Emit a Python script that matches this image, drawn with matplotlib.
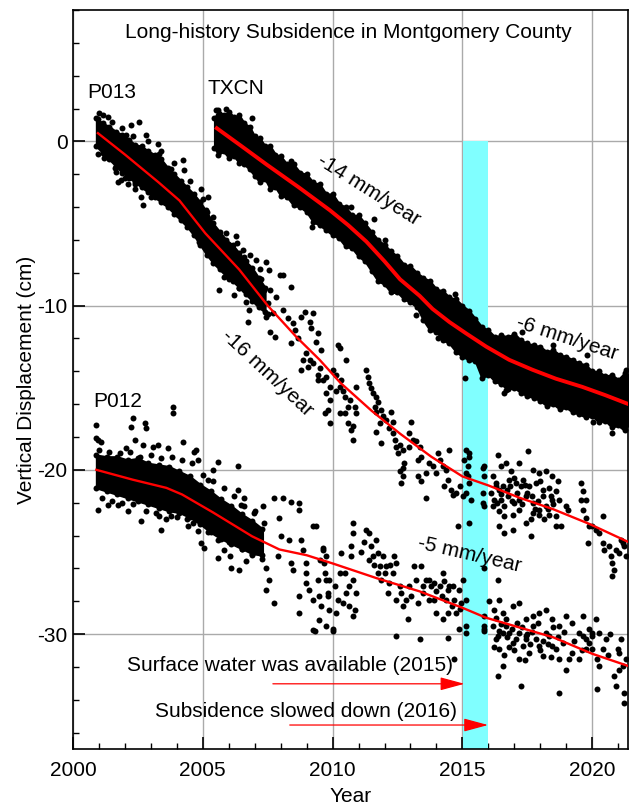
import numpy as np
import matplotlib
matplotlib.use('Agg')
import matplotlib.pyplot as plt
from matplotlib.ticker import MultipleLocator

plt.rcParams['font.family'] = ['Liberation Sans', 'DejaVu Sans']
plt.rcParams['axes.unicode_minus'] = False

# ---- data (years, cm) ----

# smooth trend lines
txcn_trend_x = [2005.54, 2006.5, 2007.45, 2008.7, 2009.9, 2010.6, 2011.3, 2012.0, 2012.6, 2013.35,
                2013.85, 2014.5, 2015.15, 2015.92, 2016.8, 2017.69, 2018.6, 2019.62, 2020.5, 2021.4]
txcn_trend_y = [0.8, -0.3, -1.4, -2.8, -4.2, -5.1, -6.1, -7.3, -8.4, -9.4,
                -10.2, -11.0, -11.7, -12.5, -13.3, -13.9, -14.45, -14.95, -15.45, -16.0]

p013_trend_x = [2000.96, 2002.0, 2003.3, 2004.1, 2005.1, 2006.4, 2007.5, 2008.6, 2009.5, 2010.3,
                2011.5, 2012.6, 2013.8, 2015.0, 2016.0, 2017.2, 2018.5, 2019.9, 2021.4]
p013_trend_y = [0.5, -0.8, -2.5, -3.6, -5.6, -7.8, -10.0, -11.9, -13.3, -14.7,
                -16.4, -17.8, -19.2, -20.4, -20.95, -21.7, -22.4, -23.3, -24.4]

p012_trend_x = [2000.9, 2002.3, 2003.6, 2004.2, 2005.4, 2006.9, 2007.95, 2009.0, 2010.0, 2011.7,
                2013.35, 2015.0, 2015.9, 2017.2, 2018.5, 2020.0, 2021.4]
p012_trend_y = [-20.0, -20.6, -21.1, -21.5, -22.6, -24.05, -24.85, -25.2, -25.7, -26.6,
                -27.4, -28.4, -29.0, -29.6, -30.2, -31.2, -31.95]

# dense (solid-looking) parts of the point clouds: upper / lower edges
txcn_band_x = [2005.45, 2005.6, 2005.8, 2006.0, 2006.2, 2006.4, 2006.6, 2006.8, 2007.0, 2007.2,
               2007.4, 2007.6, 2007.8, 2008.0, 2008.25, 2008.5, 2008.75, 2009.0, 2009.25, 2009.5,
               2009.75, 2010.0, 2010.25, 2010.5, 2010.75, 2011.0, 2011.25, 2011.5, 2011.75, 2012.0,
               2012.25, 2012.5, 2012.75, 2013.0, 2013.25, 2013.5, 2013.75, 2014.0, 2014.25, 2014.5,
               2014.75, 2015.0, 2015.25, 2015.5, 2015.75, 2016.0, 2016.25, 2016.5, 2016.75, 2017.0,
               2017.25, 2017.5, 2017.75, 2018.0, 2018.25, 2018.5, 2018.75, 2019.0, 2019.25, 2019.5,
               2019.75, 2020.0, 2020.25, 2020.5, 2020.75, 2021.0, 2021.25, 2021.4]
txcn_band_hi = [1.4, 1.9, 1.6, 1.8, 1.5, 1.6, 1.1, 0.9, 0.3, 0.2,
                -0.3, -0.3, -0.8, -0.9, -1.4, -1.4, -1.9, -2.0, -2.5, -2.6,
                -3.2, -3.2, -3.8, -4.0, -4.5, -4.5, -5.0, -5.5, -6.0, -6.3,
                -6.7, -7.0, -7.5, -7.6, -8.0, -8.3, -8.5, -9.0, -9.1, -9.5,
                -9.6, -10.0, -10.3, -10.8, -11.3, -11.5, -11.9, -11.8, -11.9, -11.7,
                -12.1, -12.3, -12.4, -12.5, -12.8, -12.7, -13.0, -13.1, -13.3, -13.5,
                -13.6, -14.0, -14.0, -14.3, -14.2, -14.5, -14.1, -14.3]
txcn_band_lo = [-0.4, -0.8, -0.6, -1.0, -0.9, -1.3, -1.4, -1.7, -2.1, -2.5,
                -2.3, -2.9, -2.8, -3.3, -3.4, -3.9, -4.0, -4.3, -4.9, -5.1,
                -5.4, -5.7, -5.9, -6.4, -6.5, -7.0, -7.3, -7.9, -8.5, -8.7,
                -9.2, -9.2, -9.6, -9.8, -10.1, -10.9, -11.5, -11.6, -12.1, -12.3,
                -12.8, -13.1, -13.3, -13.4, -14.4, -14.2, -14.6, -14.8, -15.1, -15.0,
                -15.3, -15.5, -15.6, -15.8, -16.1, -16.0, -16.3, -16.2, -16.5, -16.6,
                -16.8, -16.7, -17.1, -17.0, -17.4, -17.3, -17.6, -17.2]

p013_core_x = [2000.9, 2001.15, 2001.4, 2001.65, 2001.9, 2002.15, 2002.4, 2002.65, 2002.9, 2003.15,
               2003.4, 2003.65, 2003.9, 2004.15, 2004.4, 2004.65, 2004.9, 2005.15, 2005.4, 2005.65,
               2005.9, 2006.15, 2006.4, 2006.65, 2006.9, 2007.15, 2007.4]
p013_core_hi = [1.4, 1.1, 0.9, 0.6, 0.4, 0.1, -0.2, -0.3, -0.6, -0.8,
                -1.1, -1.6, -2.0, -2.4, -2.8, -3.2, -3.7, -4.3, -5.0, -5.5,
                -6.0, -6.3, -6.8, -7.3, -7.7, -8.3, -8.9]
p013_core_lo = [-0.3, -0.7, -1.1, -1.5, -1.9, -2.2, -2.5, -2.8, -3.1, -3.4,
                -3.7, -4.0, -4.4, -4.8, -5.2, -5.7, -6.3, -6.9, -7.4, -7.8,
                -8.2, -8.5, -8.9, -9.3, -9.7, -10.1, -10.4]

p012_core_x = [2000.9, 2001.3, 2001.7, 2002.1, 2002.5, 2002.9, 2003.3, 2003.7, 2004.1, 2004.5,
               2004.9, 2005.3, 2005.7, 2006.1, 2006.5, 2006.9, 2007.3]
p012_core_hi = [-19.1, -19.2, -19.2, -19.4, -19.3, -19.6, -19.7, -19.8, -20.1, -20.4,
                -20.9, -21.3, -21.8, -22.2, -22.7, -23.1, -23.6]
p012_core_lo = [-21.1, -21.3, -21.5, -21.7, -21.9, -22.1, -22.3, -22.5, -22.6, -22.9,
                -23.3, -23.8, -24.2, -24.5, -24.8, -25.1, -25.2]

# individual points
txcn_pts = [(2014.05, -12.0), (2016.68, -15.14), (2020.02, -17.07), (2020.78, -17.78), (2016.62, -15.3),
            (2005.9, 2.0), (2010.7, -4.0), (2012.0, -6.0), (2018.5, -12.4), (2017.3, -11.6),
            (2019.8, -13.0), (2021.3, -13.9), (2015.1, -14.4), (2013.2, -10.6), (2009.2, -5.2),
            (2008.4, -1.2), (2011.6, -4.7), (2014.7, -9.3), (2005.5, 1.9), (2006.9, 1.4)]

p013_pts = [
    (2001.0, 1.7), (2001.5, 1.2), (2001.9, 0.8), (2002.3, 0.3), (2002.9, 0.0), (2003.4, -0.6),
    (2003.9, -1.3), (2004.5, -2.4), (2005.0, -3.5), (2005.4, -4.6), (2005.9, -5.6), (2006.3, -6.2),
    (2006.8, -6.9), (2007.2, -7.8),
    (2001.2, -1.0), (2001.6, -1.6), (2002.0, -2.2), (2002.4, -2.6), (2003.0, -3.4), (2003.5, -3.7),
    (2004.0, -4.4), (2004.6, -5.3), (2005.1, -6.4), (2005.5, -7.4), (2006.0, -8.4), (2006.4, -8.9),
    (2007.0, -9.6), (2007.5, -10.5),
    (2000.96, 1.38), (2001.15, 1.58), (2001.35, 1.48), (2000.96, -0.75), (2001.22, -0.85),
    (2002.56, 1.18), (2002.82, 0.36), (2002.05, 0.36), (2002.24, 0.97), (2001.67, -1.86),
    (2001.73, -2.47), (2001.86, -2.37), (2002.12, -2.57), (2002.37, -2.88), (2002.63, -3.38),
    (2002.69, -3.89), (2003.27, -0.14), (2003.33, -0.75), (2003.78, -1.66), (2004.23, -1.16),
    (2004.29, -1.76), (2004.23, -3.99), (2004.1, -4.4), (2004.42, -5.11), (2004.94, -2.88),
    (2005.19, -3.38), (2005.13, -4.19), (2004.87, -6.12), (2005.26, -5.41), (2006.28, -5.77),
    (2005.71, -6.63), (2006.54, -6.63), (2006.6, -7.03), (2005.64, -9.06), (2006.22, -9.36),
    (2005.83, -8.25), (2006.67, -8.65), (2007.05, -7.23), (2007.24, -8.35), (2007.44, -7.34),
    (2007.56, -7.84), (2007.37, -9.06), (2006.99, -9.66), (2006.67, -9.77), (2006.79, -10.27),
    (2006.75, -10.98), (2007.96, -8.14), (2008.09, -8.14), (2008.41, -8.85), (2007.58, -9.05),
    (2007.83, -9.46), (2007.51, -9.86), (2007.71, -10.47), (2007.45, -10.68), (2007.58, -11.59),
    (2007.77, -11.89), (2008.09, -10.27), (2008.28, -10.78), (2008.48, -11.08), (2008.54, -11.49),
    (2008.41, -12.3), (2008.67, -11.99), (2008.8, -10.68), (2008.92, -10.37), (2009.25, -10.47),
    (2009.12, -10.98), (2009.18, -11.38), (2009.44, -11.69), (2009.37, -12.19), (2009.57, -12.7),
    (2008.99, -12.9), (2008.86, -13.31), (2009.12, -13.31), (2008.8, -13.92), (2009.05, -13.71),
    (2009.25, -13.51), (2009.5, -13.82), (2009.76, -14.32), (2009.44, -14.22), (2009.63, -14.52),
    (2009.89, -14.93), (2009.76, -15.34), (2009.89, -15.74), (2009.82, -16.35), (2009.89, -17.16),
    (2009.69, -16.55), (2009.44, -14.52), (2010.21, -12.4), (2010.27, -12.6), (2010.53, -13.31),
    (2010.01, -13.92), (2010.14, -14.22), (2010.33, -14.52), (2010.27, -14.93), (2010.4, -15.23),
    (2010.14, -15.23), (2010.46, -15.54), (2010.66, -15.74), (2010.59, -16.15), (2010.85, -16.15),
    (2010.91, -14.93), (2010.46, -16.55), (2010.27, -16.55), (2010.59, -17.16), (2010.78, -17.36),
    (2010.91, -16.55), (2010.78, -18.17), (2010.72, -17.56), (2011.3, -13.92), (2011.36, -14.32),
    (2011.42, -14.73), (2011.49, -15.03), (2011.55, -15.34), (2011.68, -15.54), (2011.75, -15.84),
    (2011.62, -16.15), (2011.68, -16.45), (2011.87, -16.35), (2011.94, -16.75), (2011.81, -17.16),
    (2011.68, -17.67), (2012.07, -16.96), (2012.26, -16.45), (2012.32, -17.06), (2012.19, -17.46),
    (2012.32, -17.77), (2011.87, -18.38), (2012.39, -18.17), (2012.45, -18.58), (2012.58, -18.48),
    (2012.51, -18.98), (2012.71, -18.78), (2013.03, -17.06), (2012.96, -17.77), (2013.09, -18.17),
    (2013.22, -18.27), (2013.35, -18.58), (2013.41, -19.19), (2013.28, -19.39), (2012.96, -18.58),
    (2012.77, -19.59), (2012.71, -19.89), (2012.58, -20.1), (2012.71, -20.4), (2012.64, -20.81),
    (2013.28, -20.4), (2013.41, -20.7), (2013.6, -20.2), (2013.73, -19.59), (2013.86, -19.79),
    (2014.05, -18.98), (2014.12, -19.39), (2014.25, -19.79), (2013.99, -20.2), (2014.37, -19.99),
    (2014.44, -20.6), (2014.5, -18.78), (2014.31, -21.01), (2014.57, -21.21), (2014.76, -21.41),
    (2014.63, -21.52), (2014.89, -21.01), (2015.01, -21.62), (2013.6, -21.72), (2015.14, -18.78),
    (2015.27, -19.19), (2015.21, -19.79), (2015.14, -21.41), (2015.85, -19.79), (2015.85, -20.4),
    (2015.08, -19.39), (2015.27, -18.98), (2015.14, -20.2), (2015.27, -20.81), (2015.33, -21.82),
    (2015.78, -19.89), (2015.78, -21.41), (2015.78, -22.02), (2015.85, -22.22), (2014.82, -23.44),
    (2015.27, -23.24), (2015.21, -20.4),
    (2016.36, -19.08), (2016.49, -19.79), (2016.68, -19.59), (2016.87, -20.1), (2017.19, -19.59),
    (2017.51, -18.88), (2017.71, -19.99), (2017.96, -20.2), (2018.22, -20.1), (2018.47, -20.4),
    (2018.67, -20.7), (2016.17, -20.4), (2016.29, -20.81), (2016.42, -21.21), (2016.55, -21.01),
    (2016.81, -20.6), (2017.06, -20.81), (2017.32, -20.6), (2017.58, -21.01), (2017.83, -20.81),
    (2018.09, -21.21), (2018.35, -21.11), (2018.6, -21.31), (2018.73, -21.82), (2016.1, -21.41),
    (2016.23, -21.82), (2016.49, -21.82), (2016.74, -21.62), (2017.0, -22.02), (2017.19, -21.82),
    (2017.45, -21.62), (2017.71, -22.02), (2017.96, -22.43), (2018.22, -22.22), (2018.47, -21.82),
    (2016.17, -22.22), (2016.42, -22.53), (2016.62, -22.83), (2016.94, -22.73), (2017.19, -22.43),
    (2017.45, -23.24), (2017.71, -22.63), (2017.96, -22.73), (2018.35, -22.73), (2016.42, -23.44),
    (2016.62, -23.85), (2016.94, -23.64), (2017.64, -24.05), (2018.6, -23.44), (2018.79, -23.44),
    (2016.3, -21.0), (2016.5, -21.5), (2016.7, -21.2), (2016.9, -21.9), (2017.1, -21.4),
    (2017.3, -22.1), (2017.5, -21.4), (2017.7, -21.6), (2017.9, -21.9), (2018.1, -21.6),
    (2018.3, -22.4), (2018.5, -22.1), (2016.6, -22.2), (2017.0, -20.5), (2017.4, -20.9),
    (2017.8, -22.4), (2018.0, -20.7), (2018.4, -21.6), (2016.35, -22.0), (2016.85, -21.0),
    (2017.25, -21.0), (2017.65, -23.0), (2018.15, -23.0), (2018.6, -22.8),
    (2018.99, -22.22), (2019.05, -22.43), (2019.56, -20.81), (2019.63, -21.31), (2019.56, -21.82),
    (2019.63, -22.43), (2019.76, -22.93), (2019.88, -23.44), (2019.76, -21.82), (2020.01, -23.44),
    (2020.14, -23.64), (2019.82, -24.45), (2020.27, -23.85), (2020.4, -22.83), (2020.4, -24.45),
    (2020.46, -24.86), (2020.65, -24.66), (2020.72, -25.26), (2020.78, -25.67), (2020.85, -26.07),
    (2020.78, -26.48), (2020.91, -24.86), (2021.04, -25.06), (2021.1, -24.25), (2021.23, -24.66),
    (2021.29, -25.26), (2021.17, -24.45)]

p012_pts = [
    (2001.0, -18.8), (2001.4, -18.9), (2001.8, -19.0), (2002.2, -18.9), (2002.6, -19.2), (2003.0, -19.1),
    (2003.4, -19.3), (2003.8, -19.2), (2004.2, -19.4), (2004.6, -19.6), (2005.0, -20.3), (2005.4, -20.7),
    (2005.8, -21.1), (2006.2, -21.6), (2006.6, -22.2), (2007.0, -22.5),
    (2001.1, -21.7), (2001.5, -21.9), (2001.9, -22.0), (2002.3, -22.1), (2002.8, -22.5), (2003.2, -22.6),
    (2003.6, -23.0), (2004.0, -22.9), (2004.4, -23.0), (2004.8, -23.7), (2005.2, -23.8), (2005.6, -24.3),
    (2006.0, -24.4), (2006.5, -24.8), (2006.9, -25.2), (2007.3, -25.4),
    (2000.9, -17.27), (2000.9, -18.08), (2000.96, -18.18), (2001.09, -18.28), (2000.96, -22.43),
    (2001.35, -22.13), (2001.73, -22.13), (2002.12, -22.53), (2002.31, -16.86), (2002.24, -17.37),
    (2002.37, -18.18), (2002.63, -23.14), (2002.76, -17.16), (2002.82, -17.47), (2002.05, -18.68),
    (2002.69, -18.48), (2003.08, -18.58), (2003.27, -18.48), (2003.33, -22.84), (2003.4, -23.65),
    (2003.65, -18.68), (2003.85, -16.15), (2003.85, -16.56), (2003.78, -22.84), (2004.23, -18.28),
    (2004.42, -23.45), (2004.62, -23.24), (2004.68, -18.89), (2004.81, -19.39), (2004.74, -18.78),
    (2004.94, -24.46), (2005.06, -24.76), (2005.19, -20.61), (2005.38, -20.0), (2005.58, -19.5),
    (2005.58, -25.37), (2005.83, -24.86), (2006.03, -25.27), (2006.09, -25.98), (2006.35, -19.76),
    (2006.41, -26.08), (2006.67, -25.57), (2006.35, -21.22), (2006.47, -22.13), (2006.6, -21.72),
    (2006.99, -22.64), (2007.31, -22.23), (2007.37, -23.24), (2007.12, -24.46), (2007.44, -25.98),
    (2007.44, -27.3), (2007.56, -26.69), (2007.76, -28.11), (2007.76, -21.72), (2008.08, -21.72),
    (2008.4, -21.93), (2007.95, -22.94), (2007.88, -25.27), (2008.01, -24.05), (2008.33, -24.26),
    (2008.4, -25.67), (2008.46, -26.08), (2008.72, -22.03), (2008.72, -22.43), (2008.78, -24.26),
    (2008.85, -24.86), (2008.97, -25.67), (2009.23, -23.45), (2009.36, -23.45), (2008.72, -27.7),
    (2008.72, -28.71), (2008.97, -26.28), (2008.97, -26.89), (2009.1, -27.3), (2009.23, -27.9),
    (2009.42, -26.69), (2009.49, -27.7), (2009.55, -28.31), (2009.62, -24.86), (2009.68, -25.67),
    (2009.74, -26.69), (2009.81, -27.5), (2009.23, -29.73), (2009.49, -29.12), (2009.87, -28.51),
    (2009.5, -25.47), (2009.63, -24.76), (2009.76, -25.26), (2009.69, -26.28), (2009.88, -26.68),
    (2009.82, -27.7), (2009.76, -29.52), (2010.01, -29.72), (2010.14, -28.71), (2010.21, -27.9),
    (2010.08, -27.09), (2010.27, -26.28), (2010.33, -25.06), (2010.4, -28.1), (2010.46, -26.28),
    (2010.53, -27.49), (2010.65, -27.09), (2010.72, -24.66), (2010.78, -23.85), (2010.78, -23.24),
    (2010.72, -25.26), (2010.65, -28.3), (2010.78, -28.91), (2010.85, -28.51), (2010.91, -27.49),
    (2010.78, -26.68), (2011.29, -23.64), (2011.42, -23.85), (2011.49, -24.66), (2011.55, -25.26),
    (2011.42, -25.47), (2011.68, -24.25), (2011.74, -25.06), (2011.81, -25.87), (2011.74, -26.28),
    (2011.87, -26.68), (2011.94, -25.26), (2012.06, -25.87), (2012.13, -27.49), (2012.19, -26.88),
    (2012.32, -26.28), (2012.38, -25.26), (2012.45, -25.67), (2012.58, -27.09), (2012.45, -27.9),
    (2012.64, -27.49), (2012.71, -28.3), (2012.83, -27.9), (2012.9, -29.11), (2012.96, -27.09),
    (2013.03, -27.7), (2013.15, -25.87), (2013.22, -26.68), (2013.28, -28.1), (2013.41, -25.87),
    (2013.47, -27.09), (2013.6, -26.68), (2013.73, -26.68), (2013.79, -27.09), (2013.92, -27.9),
    (2013.99, -28.71), (2014.12, -27.09), (2014.24, -26.28), (2014.37, -27.9), (2014.44, -27.29),
    (2014.5, -27.09), (2014.63, -27.09), (2014.69, -27.9), (2014.76, -28.71), (2014.88, -27.29),
    (2015.01, -26.68), (2015.14, -27.9), (2014.95, -28.1), (2014.44, -28.71), (2014.24, -29.11),
    (2013.5, -27.5), (2013.7, -27.9), (2014.0, -27.4), (2014.2, -27.7), (2014.6, -28.3),
    (2014.9, -28.5), (2013.9, -26.9), (2014.3, -26.8), (2012.2, -25.8), (2012.0, -26.3),
    (2011.6, -25.8), (2011.2, -24.4), (2011.1, -25.0),
    (2015.14, -29.52), (2015.14, -29.92), (2015.85, -29.52), (2015.85, -29.72), (2015.85, -25.97),
    (2015.85, -28.91), (2016.36, -26.68), (2016.42, -27.9), (2016.04, -28.0), (2016.23, -28.51),
    (2016.55, -28.71), (2016.68, -29.11), (2016.94, -28.3), (2017.19, -28.1), (2017.45, -29.11),
    (2017.71, -28.91), (2017.96, -28.71), (2018.22, -28.51), (2018.47, -29.11), (2018.73, -29.52),
    (2018.99, -28.91), (2019.24, -29.31), (2019.5, -29.92), (2019.76, -30.33), (2019.88, -29.72),
    (2020.01, -30.13), (2020.14, -29.11), (2020.27, -29.92), (2020.53, -30.33), (2019.63, -28.91),
    (2016.17, -29.52), (2016.29, -30.33), (2016.55, -29.92), (2017.19, -29.92), (2017.45, -30.33),
    (2009.31, -29.83), (2010.01, -29.83), (2012.45, -30.13), (2013.35, -30.33), (2014.88, -29.72),
    (2014.69, -31.55), (2014.44, -30.23), (2015.85, -29.83),
    (2016.36, -30.13), (2016.42, -30.94), (2016.55, -31.95), (2016.36, -32.56), (2016.68, -29.52),
    (2016.94, -30.54), (2017.19, -31.55), (2017.26, -33.17), (2017.45, -30.13), (2017.58, -31.14),
    (2017.71, -29.52), (2017.96, -30.74), (2018.22, -29.93), (2018.47, -30.74), (2018.73, -31.55),
    (2018.73, -33.58), (2018.99, -32.16), (2019.24, -31.14), (2019.5, -31.55), (2019.63, -30.13),
    (2019.76, -30.94), (2019.88, -30.54), (2020.01, -29.93), (2020.2, -31.55), (2020.27, -31.95),
    (2020.4, -30.94), (2020.2, -33.37), (2020.85, -32.56), (2020.91, -33.17), (2021.04, -31.14),
    (2021.1, -30.33), (2021.17, -31.95), (2021.23, -33.58), (2021.23, -34.18), (2021.04, -32.16),
    (2016.81, -29.93), (2017.06, -30.33), (2017.32, -30.74), (2017.83, -30.33), (2018.09, -31.35),
    (2018.35, -30.13), (2018.6, -30.94), (2018.86, -30.54), (2019.12, -31.55),
    (2016.3, -29.0), (2016.5, -29.4), (2016.7, -30.2), (2016.9, -29.7), (2017.1, -29.3),
    (2017.3, -29.6), (2017.5, -30.0), (2017.7, -29.9), (2017.9, -29.3), (2018.1, -30.4),
    (2018.3, -30.6), (2018.5, -29.6), (2018.7, -30.2), (2018.9, -29.9), (2016.4, -29.8),
    (2016.8, -30.8), (2017.0, -31.0), (2017.6, -30.6), (2018.0, -31.0), (2018.4, -31.4),
    (2016.2, -30.8), (2016.6, -31.3), (2017.4, -31.6), (2019.3, -30.4), (2019.6, -31.0),
    (2020.0, -30.9), (2020.6, -31.3), (2020.7, -30.0), (2021.3, -31.5), (2021.0, -30.9)]

# 2015-2016 highlight
band_x = [2015.04, 2016.0]
band_top = 0

xmin, xmax = 2000, 2021.38
ymin, ymax = -37, 8

fig = plt.figure(figsize=(6.31, 8.07), dpi=100)
ax = fig.add_axes([73 / 631, 1 - 749 / 807, 555 / 631, 739 / 807])

ax.fill_between(band_x, band_top, ymin, color='#80ffff', lw=0, zorder=1)

dot = dict(ls='none', marker='o', color='black', ms=4.3, mew=0, zorder=2)
for bx, hi, lo in [(txcn_band_x, txcn_band_hi, txcn_band_lo),
                   (p013_core_x, p013_core_hi, p013_core_lo),
                   (p012_core_x, p012_core_hi, p012_core_lo)]:
    ax.fill_between(bx, hi, lo, facecolor='black', edgecolor='black', lw=1.5, zorder=2)
    # the cloud edges are made of single dots
    ax.plot(bx, hi, **dot)
    ax.plot(bx, lo, **dot)

for pts in [txcn_pts, p013_pts, p012_pts]:
    arr = np.array(pts)
    ax.plot(arr[:, 0], arr[:, 1], **dot)

ax.plot(txcn_trend_x, txcn_trend_y, color='red', lw=2.8, zorder=3)
ax.plot(p013_trend_x, p013_trend_y, color='red', lw=1.7, zorder=3)
ax.plot(p012_trend_x, p012_trend_y, color='red', lw=1.7, zorder=3)

fs = 15
ax.text(0.497, 0.97, 'Long-history Subsidence in Montgomery County', transform=ax.transAxes,
        ha='center', va='center', fontsize=fs)
ax.text(2001.48, 2.98, 'P013', ha='center', va='center', fontsize=fs)
ax.text(2006.27, 3.22, 'TXCN', ha='center', va='center', fontsize=fs)
ax.text(2001.71, -15.87, 'P012', ha='center', va='center', fontsize=fs)

ax.text(2011.38, -2.98, '-14 mm/year', ha='center', va='center', rotation=-32,
        rotation_mode='anchor', fontsize=fs)
ax.text(2007.5, -14.1, '-16 mm/year', ha='center', va='center', rotation=-43,
        rotation_mode='anchor', fontsize=fs)
ax.text(2019.04, -11.98, '-6 mm/year', ha='center', va='center', rotation=-18,
        rotation_mode='anchor', fontsize=fs)
ax.text(2015.27, -25.17, '-5 mm/year', ha='center', va='center', rotation=-13,
        rotation_mode='anchor', fontsize=fs)

ax.text(2008.37, -31.91, 'Surface water was available (2015)', ha='center', va='center', fontsize=fs)
ax.text(2008.96, -34.71, 'Subsidence slowed down (2016)', ha='center', va='center', fontsize=fs)
ax.annotate('', xy=(2015.08, -33.03), xytext=(2007.7, -33.03),
            arrowprops=dict(arrowstyle='-|>,head_length=1.0,head_width=0.27', color='red',
                            lw=0.9, shrinkA=0, shrinkB=0, mutation_scale=15))
ax.annotate('', xy=(2015.99, -35.54), xytext=(2008.35, -35.54),
            arrowprops=dict(arrowstyle='-|>,head_length=1.0,head_width=0.27', color='red',
                            lw=0.9, shrinkA=0, shrinkB=0, mutation_scale=15))

ax.set_xlim(xmin, xmax)
ax.set_ylim(ymin, ymax)
ax.set_xticks([2000, 2005, 2010, 2015, 2020])
ax.set_yticks([0, -10, -20, -30])
ax.xaxis.set_minor_locator(MultipleLocator(1))
ax.yaxis.set_minor_locator(MultipleLocator(2))
ax.tick_params(which='major', direction='in', length=8.5, width=1.2, labelsize=fs,
               top=False, right=False)
ax.tick_params(which='minor', direction='in', length=4.3, width=1, top=False, right=False)
ax.tick_params(axis='x', pad=9)
ax.tick_params(axis='y', pad=4)
ax.grid(True, which='major', color='#aaaaaa', lw=1)
ax.set_axisbelow(True)
for s in ax.spines.values():
    s.set_linewidth(1.2)

ax.set_xlabel('Year', fontsize=fs, labelpad=5)
ax.set_ylabel('Vertical Displacement (cm)', fontsize=fs, labelpad=1)

fig.savefig('out.png', dpi=100)
